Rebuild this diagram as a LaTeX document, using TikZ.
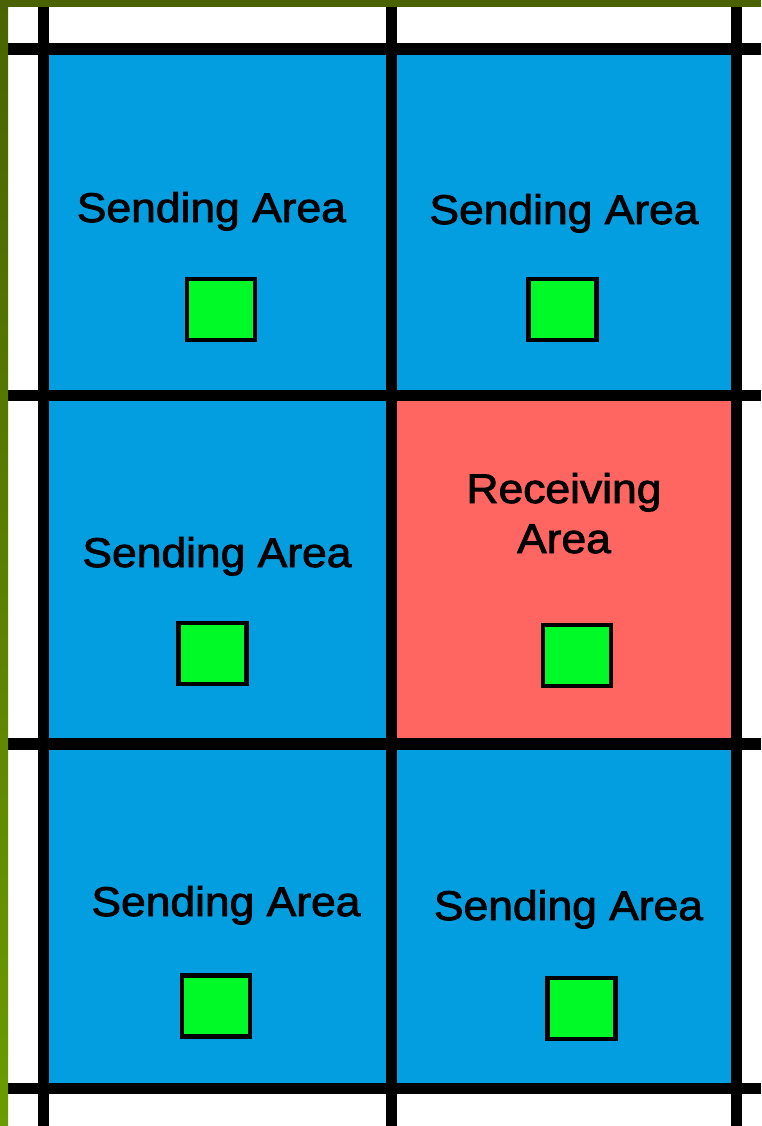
\documentclass[tikz,border=0pt]{standalone}
\usepackage{fontspec}
\setmainfont{Liberation Sans}
\newfontface\labelface{Liberation Sans}[FakeBold=2]
\definecolor{cellblue}{RGB}{3,158,224}
\definecolor{cellred}{RGB}{255,102,98}
\definecolor{sqgreen}{RGB}{0,250,40}
\definecolor{olivetop}{RGB}{74,99,0}
\definecolor{olivebot}{RGB}{107,155,0}
\newcommand{\wide}[1]{\scalebox{1.07}[1]{#1}}
\tikzset{
  gridline/.style={line width=11.5pt, black},
  sendcell/.style={fill=cellblue},
  recvcell/.style={fill=cellred},
  greensq/.style={draw=black, fill=sqgreen, line width=4.5pt, inner sep=0pt,
    minimum width=68pt, minimum height=61pt},
  areatext/.style={font=\labelface\fontsize{41.5}{50}\selectfont, text=black, inner sep=0pt, align=center, anchor=base}
}
\begin{document}
\begin{tikzpicture}[x=1pt,y=-1pt]
\useasboundingbox (0,0) rectangle (761,1126);
\fill[white] (0,0) rectangle (761,1126);
% cells
\fill[sendcell] (43.5,49) rectangle (391.5,395.5);
\fill[sendcell] (391.5,49) rectangle (736.7,395.5);
\fill[sendcell] (43.5,395.5) rectangle (391.5,743.8);
\fill[recvcell] (391.5,395.5) rectangle (736.7,743.8);
\fill[sendcell] (43.5,743.8) rectangle (391.5,1088.3);
\fill[sendcell] (391.5,743.8) rectangle (736.7,1088.3);
% grid lines
\foreach \gx in {43.5,391.5,736.7} \draw[gridline] (\gx,6) -- (\gx,1126);
\foreach \gy in {49,395.5,743.8,1088.3} \draw[gridline] (8,\gy) -- (761,\gy);
% frame bars
\shade[top color=olivetop, bottom color=olivebot] (0,0) rectangle (8,1126);
\fill[olivetop] (0,0) rectangle (761,6.7);
% labels
\node[areatext] (t1) at (211.4,222) {\wide{Sending Area}};
\node[areatext] (t2) at (564,224) {\wide{Sending Area}};
\node[areatext] (t3) at (217,567) {\wide{Sending Area}};
\node[areatext] (t4) at (564,553) {\wide{Receiving}\\\wide{Area}};
\node[areatext] (t5) at (226,916) {\wide{Sending Area}};
\node[areatext] (t6) at (568.5,920) {\wide{Sending Area}};
% green squares
\node[greensq] (s1) at (220.8,309.5) {};
\node[greensq] (s2) at (562.5,309.5) {};
\node[greensq] (s3) at (212.5,653.5) {};
\node[greensq] (s4) at (577,655.5) {};
\node[greensq] (s5) at (216,1006) {};
\node[greensq] (s6) at (581.5,1008.5) {};
\end{tikzpicture}
\end{document}
